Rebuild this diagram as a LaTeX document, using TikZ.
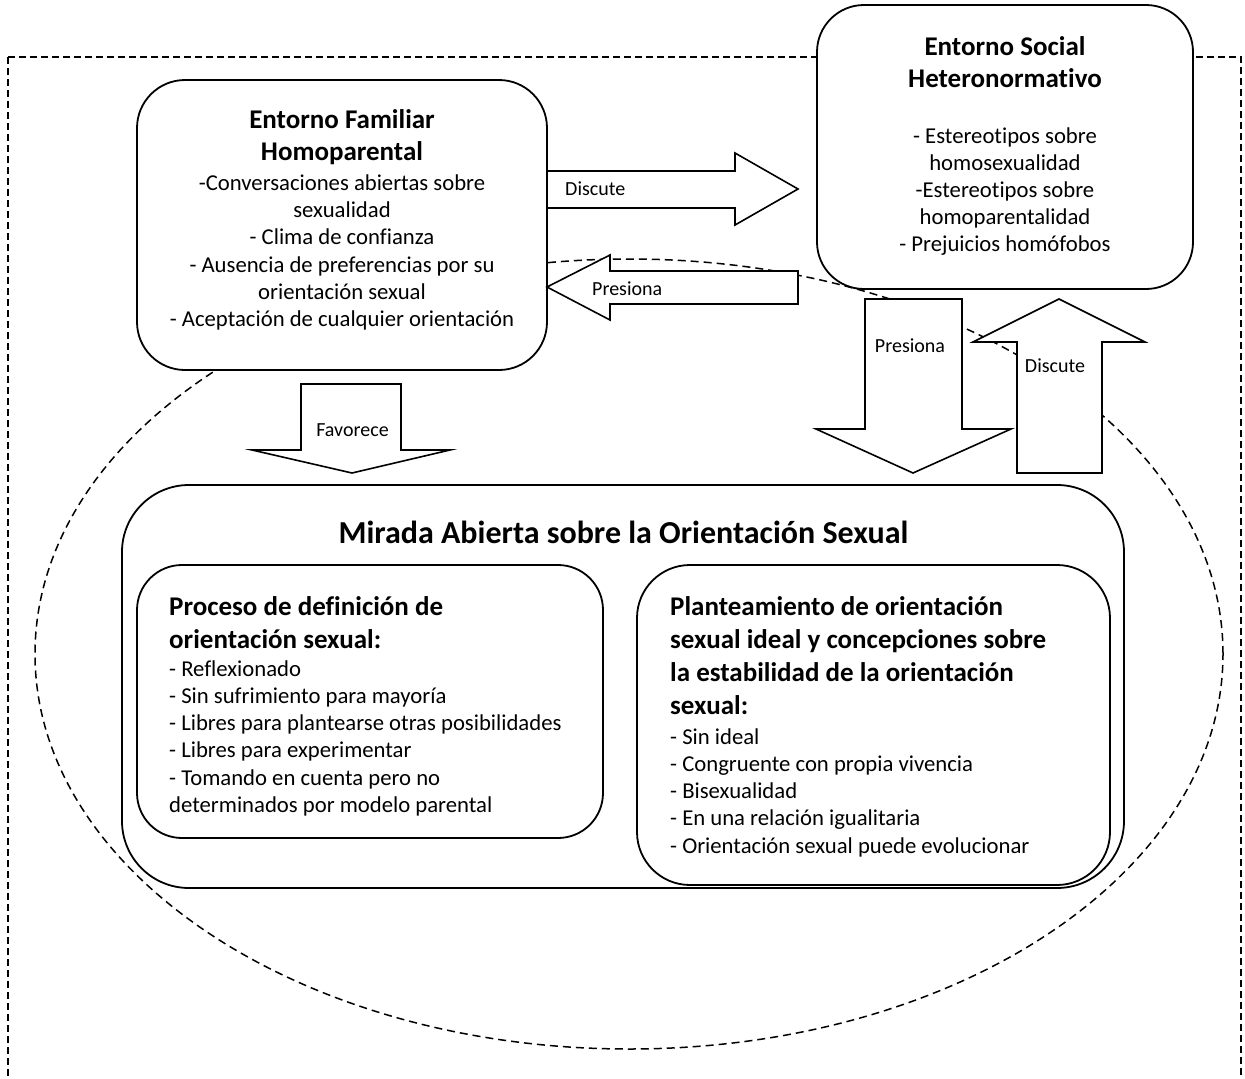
\documentclass[tikz,border=0pt]{standalone}
\usepackage{fontspec}
\setmainfont{Carlito}[Ligatures=NoCommon]
\tikzset{
  caja/.style={draw, line width=1.8pt, fill=white},
  flecha/.style={draw, line width=1.6pt, fill=white, line join=miter},
  linea/.style={font=\fontsize{22.7}{27}\selectfont, inner sep=0pt, anchor=base},
  titulo/.style={font=\fontsize{27}{32}\selectfont\bfseries, inner sep=0pt, anchor=base},
  etiqueta/.style={font=\fontsize{20}{24}\selectfont, inner sep=0pt, anchor=base}
}
\begin{document}
\begin{tikzpicture}[x=1pt,y=-1pt]
\useasboundingbox (0,0) rectangle (1245,1079);

% marco y elipse
\draw [line width=1.5pt, dash pattern=on 7pt off 4pt] (8,57) rectangle (1241,1110);
\draw [line width=1.5pt, dash pattern=on 8pt off 5pt] (629,654) ellipse [x radius=594pt, y radius=395pt];

% entorno familiar
\draw [caja, rounded corners=48pt] (137,80) rectangle (547,370);
\node [titulo] (famT1) at (342,128) {Entorno Familiar};
\node [titulo] (famT2) at (342,160) {Homoparental};
\foreach \t [count=\i from 0] in {-Conversaciones abiertas sobre, sexualidad, - Clima de confianza,
    - Ausencia de preferencias por su, orientación sexual, - Aceptación de cualquier orientación}
  \node [linea] (fam\i) at (342,{190.5+27.2*\i}) {\t};

% entorno social
\draw [caja, rounded corners=47pt] (817,5) rectangle (1193,289);
\node [titulo] (socT1) at (1005,55) {Entorno Social};
\node [titulo] (socT2) at (1005,87) {Heteronormativo};
\foreach \t [count=\i from 0] in {- Estereotipos sobre, homosexualidad, -Estereotipos sobre,
    homoparentalidad, - Prejuicios homófobos}
  \node [linea] (soc\i) at (1005,{143.3+27.1*\i}) {\t};

% flechas entre entornos
\draw [flecha] (547,171) -- (735,171) -- (735,153) -- (798,189) -- (735,225) -- (735,208) -- (547,208) -- cycle;
\node [etiqueta, anchor=base west] (discute1) at (565,195) {Discute};
\draw [flecha] (798,271) -- (610,271) -- (610,255) -- (547,287) -- (610,320) -- (610,304) -- (798,304) -- cycle;
\node [etiqueta, anchor=base west] (presiona1) at (592,295) {Presiona};

\draw [flecha] (865,299) -- (962,299) -- (962,429) -- (1011,429) -- (913,473) -- (816,429) -- (865,429) -- cycle;
\node [etiqueta] (presiona2) at (910,352) {Presiona};
\draw [flecha] (1017,473) -- (1017,342) -- (973,342) -- (1059,299) -- (1145,342) -- (1102,342) -- (1102,473) -- cycle;
\node [etiqueta] (discute2) at (1055,372) {Discute};

\draw [flecha] (301,384) -- (401,384) -- (401,450) -- (450,450) -- (352,473) -- (252,450) -- (301,450) -- cycle;
\node [etiqueta] (favorece) at (352.5,436) {Favorece};

% mirada abierta
\draw [caja, rounded corners=67pt] (122,485) rectangle (1124,888);
\node [titulo, font=\fontsize{32}{38}\selectfont\bfseries] (mirada) at (623.5,543) {Mirada Abierta sobre la Orientación Sexual};

\draw [caja, rounded corners=45pt] (137,565) rectangle (603,838);
\foreach \t [count=\i from 0] in {Proceso de definición de, orientación sexual:}
  \node [titulo, anchor=base west] (procT\i) at (169,{615+33*\i}) {\t};
\foreach \t [count=\i from 0] in {- Reflexionado, - Sin sufrimiento para mayoría,
    - Libres para plantearse otras posibilidades, - Libres para experimentar,
    - Tomando en cuenta pero no, determinados por modelo parental}
  \node [linea, anchor=base west] (proc\i) at (169,{676+27.3*\i}) {\t};

\draw [caja, rounded corners=53pt] (637,565) rectangle (1110,885);
\foreach \t [count=\i from 0] in {Planteamiento de orientación, sexual ideal y concepciones sobre,
    la estabilidad de la orientación, sexual:}
  \node [titulo, anchor=base west] (planT\i) at (670,{615+33.3*\i}) {\t};
\foreach \t [count=\i from 0] in {- Sin ideal, - Congruente con propia vivencia, - Bisexualidad,
    - En una relación igualitaria, - Orientación sexual puede evolucionar}
  \node [linea, anchor=base west] (plan\i) at (670,{744+27.3*\i}) {\t};
\end{tikzpicture}
\end{document}
